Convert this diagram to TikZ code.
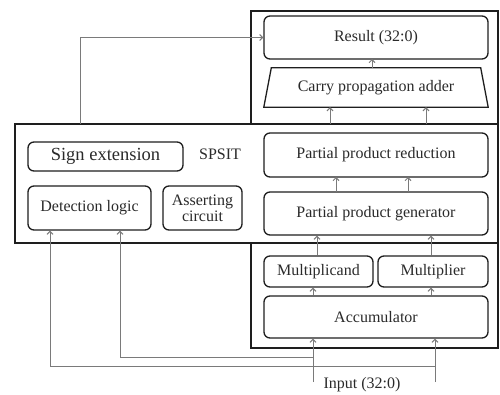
\documentclass[tikz,border=0pt]{standalone}
\usepackage{fontspec}
\setmainfont{Liberation Serif}
\usetikzlibrary{arrows.meta}
\definecolor{txt}{HTML}{2a2a2a}
\definecolor{conn}{HTML}{7a7a7a}
\definecolor{frame}{HTML}{1e1e1e}
\begin{document}
\begin{tikzpicture}[x=1pt,y=-1pt,
  blk/.style={draw=frame,line width=1.3pt,rounded corners=6pt,inner sep=0pt,
    text=txt,font=\fontsize{16}{17}\selectfont,align=center},
  plain/.style={inner sep=0pt,text=txt,font=\fontsize{16}{17}\selectfont,align=center},
  outer/.style={draw=frame,line width=1.8pt},
  conn/.style={draw=conn,line width=1pt,-{Straight Barb[length=3pt,width=6pt]}},
  wire/.style={draw=conn,line width=1pt}]
\useasboundingbox (0,0) rectangle (500,394);
% outer frames
\draw[outer] (251,11) rectangle (498,348);
\draw[outer,fill=white] (15,124) rectangle (498,243);
% right column
\node[blk,minimum width=224,minimum height=43] (res) at (376,37.5) {Result (32:0)};
\node[plain,minimum width=224,minimum height=39] (cpa) at (376,87.5) {Carry propagation adder};
\draw[draw=frame,line width=1.3pt] (cpa.south west) -- (cpa.south east) -- ([xshift=-7.5pt]cpa.north east) -- ([xshift=7.5pt]cpa.north west) -- cycle;
\node[blk,minimum width=224,minimum height=44] (ppr) at (376,155) {Partial product reduction};
\node[blk,minimum width=224,minimum height=43] (ppg) at (376,213.5) {Partial product generator};
\node[blk,minimum width=109,minimum height=31] (mcand) at (318.5,271.5) {Multiplicand};
\node[blk,minimum width=110,minimum height=31] (mplier) at (433,271.5) {Multiplier};
\node[blk,minimum width=224,minimum height=42] (acc) at (376,317) {Accumulator};
% left part
\node[blk,minimum width=155,minimum height=29,font=\fontsize{18.5}{20}\selectfont] (sign) at (105.5,156.5) {Sign extension};
\node[plain] (spsit) at (220,154) {SPSIT};
\node[blk,minimum width=123,minimum height=44] (det) at (89.5,208) {Detection logic};
\node[blk,minimum width=79,minimum height=44,font=\fontsize{16}{16}\selectfont] (asrt) at (202.5,208) {Asserting\\circuit};
\node[plain] (inp) at (362,385) {Input (32:0)};
% coordinates
\coordinate (top) at (80,124);
\coordinate (c1) at (330,124);
\coordinate (c2) at (426,124);
\coordinate (in1) at (313,382);
\coordinate (in2) at (435,382);
\coordinate (j1) at (313,357);
\coordinate (j2) at (435,366);
% connectors
\draw[conn] (top) |- (res.west);
\draw[conn] (372,68) -- (372,59);
\draw[conn] (c1) -- (c1 |- cpa.south);
\draw[conn] (c2) -- (c2 |- cpa.south);
\draw[conn] (336,192) -- (336,177);
\draw[conn] (408,192) -- (408,177);
\draw[conn] (mcand.north -| 317,0) -- (ppg.south -| 317,0);
\draw[conn] (mplier.north -| 431,0) -- (ppg.south -| 431,0);
\draw[conn] (acc.north -| 313,0) -- (mcand.south -| 313,0);
\draw[conn] (acc.north -| 431,0) -- (mplier.south -| 431,0);
\draw[conn] (in1) -- (in1 |- acc.south);
\draw[conn] (in2) -- (in2 |- acc.south);
\draw[conn] (j1) -| (det.south -| 120,0);
\draw[conn] (j2) -| (det.south -| 50,0);
\end{tikzpicture}
\end{document}
